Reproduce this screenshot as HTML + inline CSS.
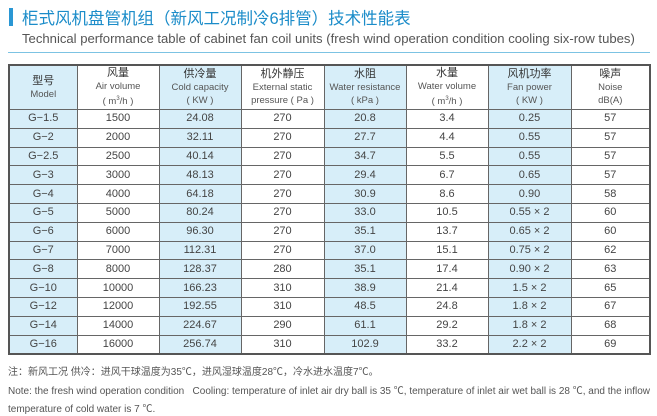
<!DOCTYPE html>
<html><head><meta charset="utf-8"><style>
body{margin:0;width:657px;height:416px;background:#fff;position:relative;overflow:hidden;font-family:"Liberation Sans","Noto Sans CJK SC",sans-serif;}
.bar{position:absolute;left:9px;top:8px;width:4px;height:18px;background:#2a97d4;}
.t1{position:absolute;left:22px;top:5px;font-size:16.5px;color:#1b8cc9;white-space:nowrap;}
.t2{position:absolute;left:22px;top:31px;font-size:13.1px;color:#555;white-space:nowrap;}
.line{position:absolute;left:8px;top:52px;width:642px;height:1px;background:#7cc3e3;}
table{position:absolute;left:8px;top:64px;border-collapse:collapse;border:2px solid #555;table-layout:fixed;}
td{border:1px solid #666;text-align:center;font-size:11px;color:#444;padding:0;height:17.8px;line-height:17px;}
tr.h td{height:43px;line-height:13px;font-size:9.5px;color:#555;}
tr.h td b{font-weight:normal;font-size:11px;color:#333;}
.s{background:#d7eef9;}
.n{position:absolute;left:8px;font-size:10px;color:#555;white-space:nowrap;}
</style></head><body>
<div class="bar"></div>
<div class="t1">柜式风机盘管机组（新风工况制冷6排管）技术性能表</div>
<div class="t2">Technical performance table of cabinet fan coil units (fresh wind operation condition cooling six-row tubes)</div>
<div class="line"></div>
<table>
<colgroup><col style="width:68px"><col style="width:82px"><col style="width:82px"><col style="width:83px"><col style="width:82px"><col style="width:82px"><col style="width:83px"><col style="width:79px"></colgroup>
<tr class="h"><td class="s"><b>型号</b><br>Model</td><td><b>风量</b><br>Air volume<br>( m<sup style="font-size:6px">3</sup>/h )</td><td class="s"><b>供冷量</b><br>Cold capacity<br>( KW )</td><td><b>机外静压</b><br>External static<br>pressure ( Pa )</td><td class="s"><b>水阻</b><br>Water resistance<br>( kPa )</td><td><b>水量</b><br>Water volume<br>( m<sup style="font-size:6px">3</sup>/h )</td><td class="s"><b>风机功率</b><br>Fan power<br>( KW )</td><td><b>噪声</b><br>Noise<br>dB(A)</td></tr>
<tr><td class="s">G−1.5</td><td>1500</td><td class="s">24.08</td><td>270</td><td class="s">20.8</td><td>3.4</td><td class="s">0.25</td><td>57</td></tr>
<tr><td class="s">G−2</td><td>2000</td><td class="s">32.11</td><td>270</td><td class="s">27.7</td><td>4.4</td><td class="s">0.55</td><td>57</td></tr>
<tr><td class="s">G−2.5</td><td>2500</td><td class="s">40.14</td><td>270</td><td class="s">34.7</td><td>5.5</td><td class="s">0.55</td><td>57</td></tr>
<tr><td class="s">G−3</td><td>3000</td><td class="s">48.13</td><td>270</td><td class="s">29.4</td><td>6.7</td><td class="s">0.65</td><td>57</td></tr>
<tr><td class="s">G−4</td><td>4000</td><td class="s">64.18</td><td>270</td><td class="s">30.9</td><td>8.6</td><td class="s">0.90</td><td>58</td></tr>
<tr><td class="s">G−5</td><td>5000</td><td class="s">80.24</td><td>270</td><td class="s">33.0</td><td>10.5</td><td class="s">0.55 × 2</td><td>60</td></tr>
<tr><td class="s">G−6</td><td>6000</td><td class="s">96.30</td><td>270</td><td class="s">35.1</td><td>13.7</td><td class="s">0.65 × 2</td><td>60</td></tr>
<tr><td class="s">G−7</td><td>7000</td><td class="s">112.31</td><td>270</td><td class="s">37.0</td><td>15.1</td><td class="s">0.75 × 2</td><td>62</td></tr>
<tr><td class="s">G−8</td><td>8000</td><td class="s">128.37</td><td>280</td><td class="s">35.1</td><td>17.4</td><td class="s">0.90 × 2</td><td>63</td></tr>
<tr><td class="s">G−10</td><td>10000</td><td class="s">166.23</td><td>310</td><td class="s">38.9</td><td>21.4</td><td class="s">1.5 × 2</td><td>65</td></tr>
<tr><td class="s">G−12</td><td>12000</td><td class="s">192.55</td><td>310</td><td class="s">48.5</td><td>24.8</td><td class="s">1.8 × 2</td><td>67</td></tr>
<tr><td class="s">G−14</td><td>14000</td><td class="s">224.67</td><td>290</td><td class="s">61.1</td><td>29.2</td><td class="s">1.8 × 2</td><td>68</td></tr>
<tr><td class="s">G−16</td><td>16000</td><td class="s">256.74</td><td>310</td><td class="s">102.9</td><td>33.2</td><td class="s">2.2 × 2</td><td>69</td></tr>
</table>
<div class="n" style="top:363px">注：新风工况 供冷：进风干球温度为35℃，进风湿球温度28℃，冷水进水温度7℃。</div>
<div class="n" style="top:382px">Note: the fresh wind operation condition &nbsp; Cooling: temperature of inlet air dry ball is 35 ℃, temperature of inlet air wet ball is 28 ℃, and the inflow</div>
<div class="n" style="top:400px">temperature of cold water is 7 ℃.</div>
</body></html>
